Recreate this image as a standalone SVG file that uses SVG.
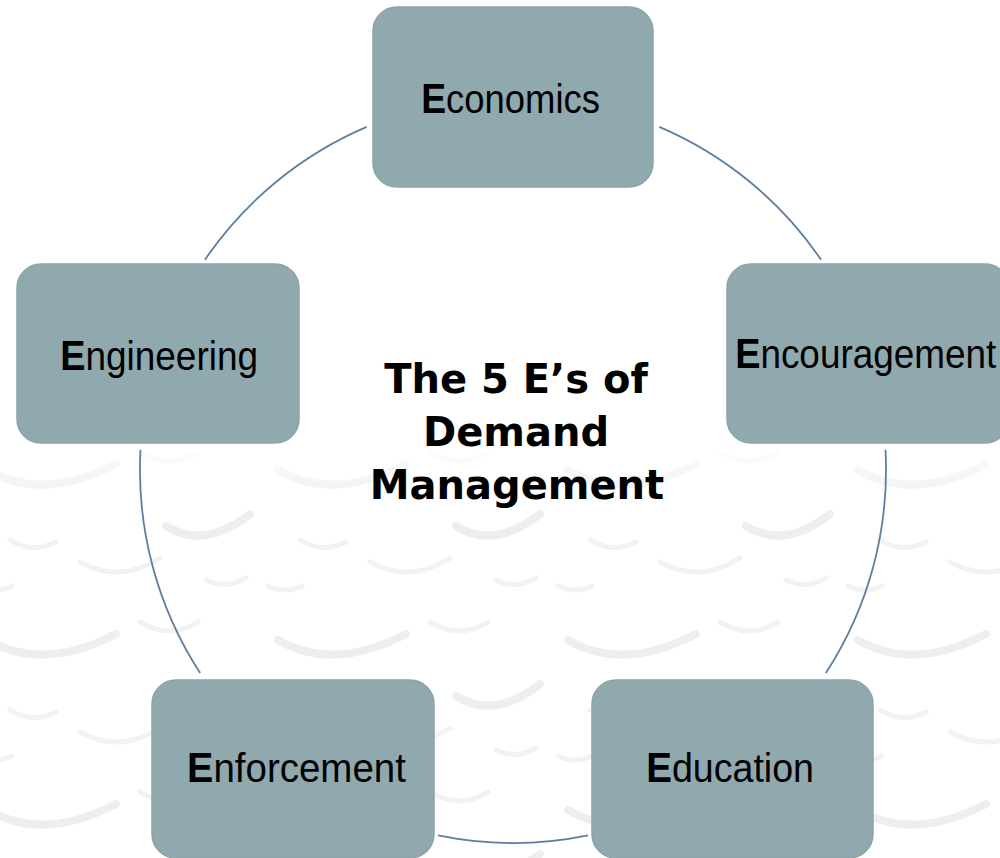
<svg xmlns="http://www.w3.org/2000/svg" width="1000" height="858" viewBox="0 0 1000 858">
  <style>
    .box { fill: #90a9ae; stroke: #8aa3a9; stroke-width: 1.5; }
    .cap { font-family: "Liberation Sans", Arial, sans-serif; font-size: 42px; font-weight: bold; fill: #000; }
    .rest { font-family: "Liberation Sans", Arial, sans-serif; font-size: 41px; fill: #000; }
    .title { font-family: "DejaVu Sans", Verdana, sans-serif; font-size: 40px; font-weight: bold; fill: #000; text-anchor: middle; }
    .arc { fill: none; stroke: #5f7f9f; stroke-width: 1.8; }
    .sw { fill: none; stroke: #eeeeee; stroke-width: 8; stroke-linecap: round; }
    .sw2 { fill: none; stroke: #f2f2f2; stroke-width: 5; stroke-linecap: round; }
  </style>
  <defs>
    <pattern id="cars" x="-30" y="430" width="290" height="170" patternUnits="userSpaceOnUse">
      <path class="sw" d="M18,40 q55,32 128,-6"/>
      <path class="sw2" d="M170,22 q30,18 58,0"/>
      <path class="sw" d="M196,96 q38,24 84,-12"/>
      <path class="sw2" d="M40,110 q22,14 46,2"/>
      <path class="sw2" d="M110,132 q40,22 80,-4"/>
      <path class="sw2" d="M236,150 q20,10 40,-2"/>
      <path class="sw2" d="M8,156 q18,8 34,0"/>
    </pattern>
    <linearGradient id="fade" x1="0" y1="0" x2="0" y2="1">
      <stop offset="0" stop-color="#fff" stop-opacity="0"/>
      <stop offset="0.2" stop-color="#fff" stop-opacity="1"/>
      <stop offset="1" stop-color="#fff" stop-opacity="1"/>
    </linearGradient>
    <mask id="fadeMask">
      <rect x="0" y="430" width="1000" height="428" fill="url(#fade)"/>
    </mask>
  </defs>

  <rect x="0" y="0" width="1000" height="858" fill="#ffffff"/>
  <g id="background" mask="url(#fadeMask)">
    <rect x="0" y="430" width="1000" height="428" fill="url(#cars)"/>
  </g>

  <g id="connectors">
    <path class="arc" d="M204.9,259.8 A373,373 0 0 1 366.7,126.9"/>
    <path class="arc" d="M659.3,126.9 A373,373 0 0 1 821.1,259.8"/>
    <path class="arc" d="M885.5,449.8 A373,373 0 0 1 825.8,673.1"/>
    <path class="arc" d="M588,835.4 A373,373 0 0 1 438,835.4"/>
    <path class="arc" d="M200.2,673.1 A373,373 0 0 1 140.5,449.8"/>
  </g>

  <g id="center-title">
    <text class="title" x="516" y="393">The 5 E’s of</text>
    <text class="title" x="516" y="446">Demand</text>
    <text class="title" x="517" y="499">Management</text>
  </g>

  <g id="node-economics">
    <rect class="box" x="373" y="7" width="280" height="180" rx="24"/>
    <text transform="translate(421.2,113) scale(0.889,1)"><tspan class="cap">E</tspan><tspan class="rest">conomics</tspan></text>
  </g>

  <g id="node-encouragement">
    <rect class="box" x="727" y="264" width="282" height="179" rx="24"/>
    <text transform="translate(735.2,368) scale(0.9,1)"><tspan class="cap">E</tspan><tspan class="rest">ncouragement</tspan></text>
  </g>

  <g id="node-education">
    <rect class="box" x="592" y="680" width="281" height="178" rx="24"/>
    <text transform="translate(646.2,782) scale(0.917,1)"><tspan class="cap">E</tspan><tspan class="rest">ducation</tspan></text>
  </g>

  <g id="node-enforcement">
    <rect class="box" x="152" y="680" width="282" height="178" rx="24"/>
    <text transform="translate(187.1,782) scale(0.939,1)"><tspan class="cap">E</tspan><tspan class="rest">nforcement</tspan></text>
  </g>

  <g id="node-engineering">
    <rect class="box" x="17" y="264" width="282" height="179" rx="24"/>
    <text transform="translate(60.2,370) scale(0.9015,1)"><tspan class="cap">E</tspan><tspan class="rest">ngineering</tspan></text>
  </g>
</svg>
